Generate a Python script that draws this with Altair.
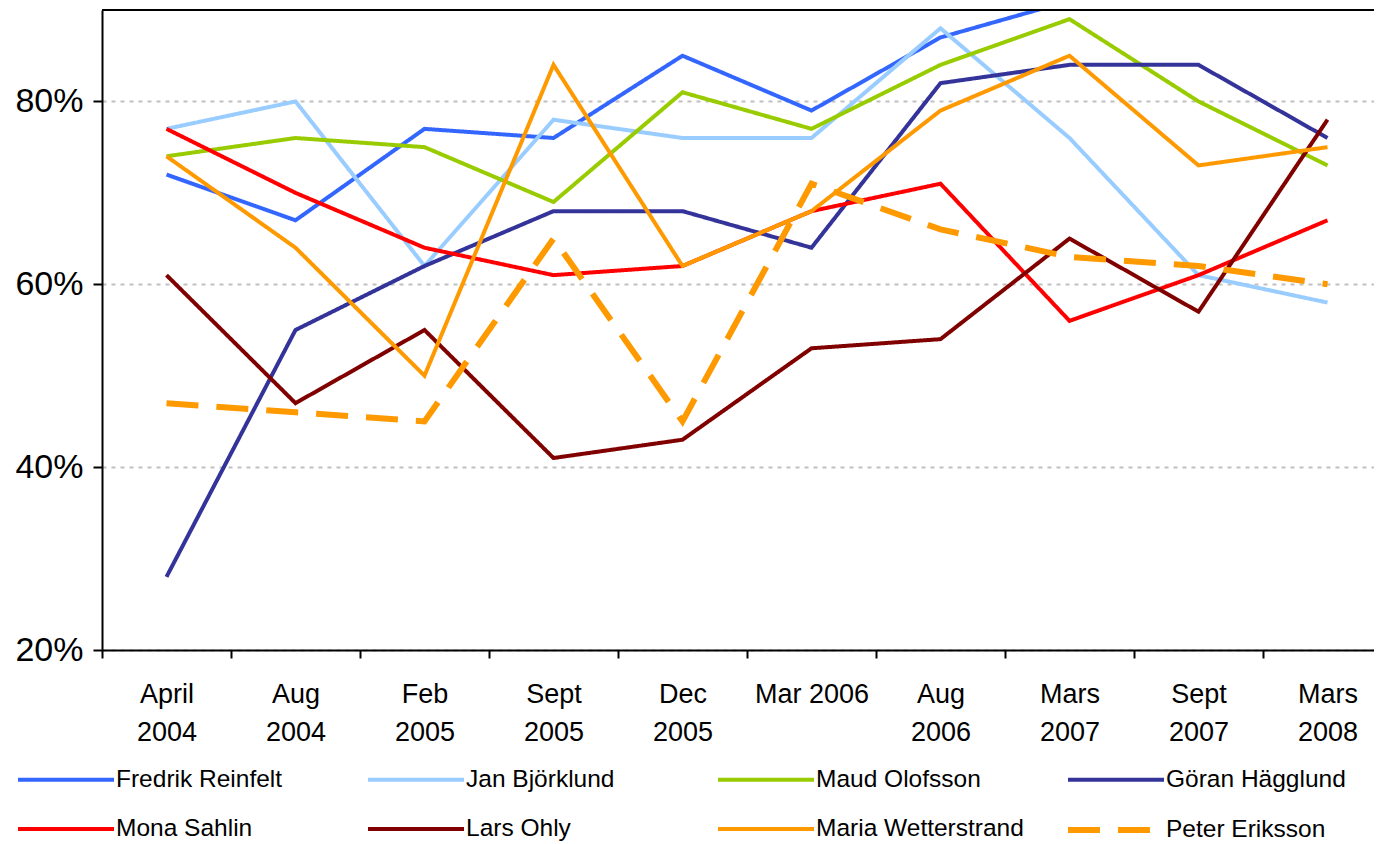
import altair as alt
import pandas as pd

# ---- data -------------------------------------------------------------
periods = ["April|2004", "Aug|2004", "Feb|2005", "Sept|2005", "Dec|2005",
           "Mar 2006", "Aug|2006", "Mars|2007", "Sept|2007", "Mars|2008"]

names = ["Fredrik Reinfelt", "Jan Björklund", "Maud Olofsson", "Göran Hägglund",
         "Mona Sahlin", "Lars Ohly", "Maria Wetterstrand", "Peter Eriksson"]

reinfelt = [72, 67, 77, 76, 85, 79, 87, 91, 93, 92]
bjorklund = [77, 80, 62, 78, 76, 76, 88, 76, 61, 58]
olofsson = [74, 76, 75, 69, 81, 77, 84, 89, 80, 73]
hagglund = [28, 55, 62, 68, 68, 64, 82, 84, 84, 76]
sahlin = [77, 70, 64, 61, 62, 68, 71, 56, 61, 67]
ohly = [61, 47, 55, 41, 43, 53, 54, 65, 57, 78]
wetterstrand = [74, 64, 50, 84, 62, 68, 79, 85, 73, 75]
eriksson = [47, 46, 45, 65, 45, 71, 66, 63, 62, 60]

y_ticks = [20, 40, 60, 80]
y_top = [90]

# ---- styles -----------------------------------------------------------
colors = ["#3366FF", "#99CCFF", "#99CC00", "#333399",
          "#FF0000", "#800000", "#FF9900", "#FF9900"]
dashes = [[1, 0]] * 7 + [[32, 18]]
widths = [4] * 7 + [6]

series = [reinfelt, bjorklund, olofsson, hagglund, sahlin, ohly, wetterstrand, eriksson]
rows = []
for n, vals in zip(names, series):
    for p, v in zip(periods, vals):
        rows.append({"name": n, "period": p, "value": v})
df = pd.DataFrame(rows)

FONT = "Liberation Sans"
PLOT_W = 1272      # visible view width
RANGE_W = 1290     # full category range (extends past the window edge)

lines = alt.Chart(df).mark_line(clip=True, strokeCap="butt", strokeJoin="miter").encode(
    x=alt.X("period:N", sort=periods,
            scale=alt.Scale(type="band", domain=periods, paddingInner=0,
                            paddingOuter=0, range=[0, RANGE_W]),
            axis=alt.Axis(title=None, labelExpr="split(datum.label, '|')",
                          tickBand="extent", labelAngle=0, labelFontSize=27,
                          labelLineHeight=38, labelPadding=23, tickSize=8,
                          labelBaseline="top", grid=False)),
    y=alt.Y("value:Q",
            scale=alt.Scale(domain=[20, 90], nice=False, zero=False),
            axis=alt.Axis(title=None, values=y_ticks, labelExpr="datum.value + '%'",
                          labelFontSize=34, labelPadding=10, tickSize=9,
                          grid=True, gridColor="#C0C0C0", gridDash=[4, 5],
                          gridWidth=2)),
    color=alt.Color("name:N", scale=alt.Scale(domain=names, range=colors),
                    legend=alt.Legend(title=None)),
    strokeDash=alt.StrokeDash("name:N", scale=alt.Scale(domain=names, range=dashes),
                              legend=alt.Legend(title=None)),
    strokeWidth=alt.StrokeWidth("name:N",
                                scale=alt.Scale(type="ordinal", domain=names, range=widths),
                                legend=alt.Legend(title=None)),
)

top_border = alt.Chart(pd.DataFrame({"top": y_top})).mark_rule(
    color="black", strokeWidth=2, clip=False
).encode(
    y=alt.Y("top:Q"),
    x=alt.value(0),
    x2=alt.value(RANGE_W),
)

chart = alt.layer(lines, top_border).properties(
    width=PLOT_W, height=640,
    padding={"left": 94, "top": 2, "right": 0, "bottom": 200},
    autosize="none",
).configure_view(
    stroke=None
).configure_axis(
    domainColor="black", domainWidth=2, tickColor="black", tickWidth=2,
    labelFont=FONT, labelColor="black"
).configure_legend(
    orient="none", legendX=-51, legendY=755, columns=4, direction="horizontal",
    gridAlign="all", columnPadding=32, rowPadding=23, symbolType="M-4,0H4",
    symbolSize=576, labelOffset=35, labelFontSize=24.5, labelFont=FONT,
    labelColor="black", labelLimit=400, padding=0
)

chart.save("out.html", embed_options={"renderer": "svg", "actions": False})
